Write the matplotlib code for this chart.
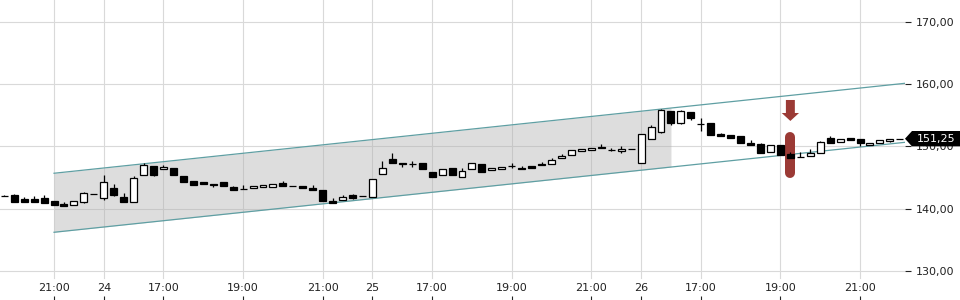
import numpy as np
import matplotlib
matplotlib.use("Agg")
import matplotlib.pyplot as plt
from matplotlib.patches import Polygon

## 15-minute candles, price channel and signal marker

# tick labels on the time axis (candle index -> label)
tick_idx = [5, 10, 16, 24, 32, 37, 43, 51, 59, 64, 70, 78, 86]
tick_lbl = ['21:00', '24', '17:00', '19:00', '21:00', '25', '17:00',
            '19:00', '21:00', '26', '17:00', '19:00', '21:00']

opens = [142.05, 142.26, 141.52, 141.52, 141.68, 141.20, 140.77, 140.56, 141.14, 142.37,
         141.73, 143.33, 141.84, 141.14, 145.37, 146.87, 146.34, 146.50, 145.26, 144.46,
         144.25, 143.98, 144.25, 143.50, 143.17, 143.28, 143.45, 143.45, 144.14, 143.66,
         143.66, 143.33, 143.01, 141.30, 141.46, 142.21, 142.00, 141.94, 145.53, 147.94,
         147.35, 147.19, 147.30, 145.90, 145.37, 146.54, 145.05, 146.43, 147.14, 146.18,
         146.34, 146.87, 146.59, 146.82, 147.19, 147.14, 148.10, 148.59, 149.28, 149.39,
         149.92, 149.44, 149.23, 149.60, 147.35, 151.16, 152.38, 155.65, 153.83, 155.49,
         153.57, 153.73, 152.01, 151.85, 151.64, 150.56, 150.40, 149.07, 150.24, 148.75,
         148.31, 148.42, 148.91, 151.37, 150.67, 151.37, 151.21, 150.19, 150.56, 150.88,
         151.25]
closes = [142.05, 141.09, 141.09, 141.09, 140.88, 140.65, 140.50, 141.20, 142.48, 142.37,
          144.35, 142.26, 141.09, 144.89, 146.98, 145.47, 146.76, 145.42, 144.25, 143.86,
          144.03, 143.77, 143.61, 143.06, 143.17, 143.66, 143.82, 144.03, 143.66, 143.66,
          143.33, 143.06, 141.30, 140.98, 141.84, 141.73, 142.00, 144.73, 146.59, 147.40,
          147.14, 147.19, 146.43, 145.15, 146.43, 145.37, 146.11, 147.30, 145.95, 146.54,
          146.71, 146.87, 146.34, 146.59, 146.98, 147.83, 148.47, 149.39, 149.60, 149.71,
          149.71, 149.44, 149.60, 149.60, 151.96, 153.08, 155.82, 153.73, 155.65, 154.53,
          153.57, 151.80, 151.64, 151.32, 150.61, 150.29, 148.91, 150.19, 148.59, 148.10,
          148.31, 148.91, 150.67, 150.51, 151.25, 151.00, 150.51, 150.51, 151.04, 151.21,
          151.25]
highs = [142.21, 142.42, 141.89, 141.97, 142.13, 141.20, 141.09, 141.20, 142.74, 142.37,
         145.42, 143.98, 142.53, 145.26, 147.30, 146.87, 147.03, 146.50, 145.26, 144.46,
         144.25, 143.98, 144.25, 143.66, 143.82, 143.66, 143.82, 144.03, 144.46, 143.66,
         143.66, 143.82, 143.01, 141.73, 142.21, 142.37, 142.00, 144.73, 147.67, 149.00,
         147.35, 147.67, 147.30, 145.90, 146.43, 146.54, 146.54, 147.30, 147.14, 146.54,
         146.71, 147.35, 146.87, 146.82, 147.51, 148.15, 148.79, 149.39, 149.60, 149.71,
         150.40, 149.76, 150.08, 149.60, 151.96, 153.45, 156.07, 155.65, 155.86, 155.49,
         154.58, 153.73, 152.17, 151.85, 151.64, 151.04, 150.56, 150.19, 150.24, 149.17,
         149.07, 149.60, 150.88, 151.69, 151.25, 151.37, 151.21, 150.51, 151.04, 151.21,
         151.25]
lows = [141.97, 141.09, 141.01, 141.09, 140.88, 140.65, 140.50, 140.56, 140.93, 142.37,
        141.46, 142.05, 141.09, 141.14, 145.37, 145.26, 146.34, 145.42, 144.25, 143.86,
        144.03, 143.50, 143.61, 143.06, 143.17, 143.28, 143.45, 143.45, 143.66, 143.66,
        143.33, 143.06, 141.30, 140.98, 141.46, 141.57, 142.00, 141.94, 145.53, 147.40,
        146.71, 146.71, 146.43, 145.15, 145.37, 145.37, 145.05, 146.43, 145.95, 146.18,
        146.34, 146.54, 146.34, 146.59, 146.98, 147.14, 148.10, 148.59, 149.28, 149.39,
        149.71, 149.20, 148.95, 149.60, 147.35, 151.16, 152.17, 153.45, 153.62, 154.26,
        152.49, 151.80, 151.64, 151.32, 150.61, 150.29, 148.91, 149.07, 148.59, 148.10,
        148.31, 148.42, 148.91, 150.51, 150.67, 151.00, 150.08, 150.19, 150.56, 150.72,
        151.25]

# channel: start index/price of upper line, end price at right edge, width
ch_start, ch_up0, ch_up1, ch_width = 5, 145.70, 160.15, 9.48
shade_end = 67.0       # shaded part of the channel stops here
signal_idx = 79        # red marker
signal_top, signal_bot = 152.28, 144.89
arrow_top, arrow_neck, arrow_tip = 157.47, 155.38, 154.10
last_price = closes[-1]

x_lo, x_hi = -0.43, 90.52
y_lo, y_hi = 125.34, 173.53

plt.rcParams['font.family'] = 'DejaVu Sans'
fig = plt.figure(figsize=(9.6, 3), dpi=100)
ax = fig.add_axes([0, 0, 905 / 960, 1])
ax.set_xlim(x_lo, x_hi)
ax.set_ylim(y_lo, y_hi)
for s in ax.spines.values():
    s.set_visible(False)

# grid
for yv in [130, 140, 150, 160, 170]:
    ax.axhline(yv, color='#d9d9d9', lw=0.8, zorder=0)
for xv in tick_idx:
    ax.axvline(xv, ymin=22 / 300, color='#d9d9d9', lw=0.8, zorder=0)

# channel
xs = np.array([ch_start, x_hi])
up = np.array([ch_up0, ch_up1])
lo = up - ch_width
slope = (ch_up1 - ch_up0) / (x_hi - ch_start)
xf = np.array([ch_start, shade_end])
upf = ch_up0 + slope * (xf - ch_start)
ax.fill_between(xf, upf, upf - ch_width, color=(0.69, 0.69, 0.69), alpha=0.42,
                lw=0, zorder=1)
ax.plot(xs, up, color='#5f9fa3', lw=0.9, zorder=2)
ax.plot(xs, lo, color='#5f9fa3', lw=0.9, zorder=2)

# signal marker
red = '#9b3a35'
rad = 0.8   # round cap radius in price units
ax.plot([signal_idx, signal_idx], [signal_top - rad, signal_bot + rad], color=red,
        lw=7.2, solid_capstyle='round', zorder=3)
ax.fill([signal_idx - 0.45, signal_idx + 0.45, signal_idx + 0.45, signal_idx + 0.87,
         signal_idx, signal_idx - 0.87, signal_idx - 0.45],
        [arrow_top, arrow_top, arrow_neck, arrow_neck, arrow_tip, arrow_neck, arrow_neck],
        color=red, lw=0, zorder=3)

# candles
x = np.arange(len(opens))
o = np.array(opens); c = np.array(closes)
h = np.array(highs); l = np.array(lows)
ax.vlines(x, l, h, color='black', lw=0.9, zorder=4)
upc = c > o
face = np.where(upc, 'white', 'black')
bottom = np.minimum(o, c)
height = np.abs(c - o)
ax.bar(x, height, bottom=bottom, width=0.7, color=face, edgecolor='black',
       linewidth=0.9, zorder=5)

# axes ticks
ax.yaxis.tick_right()
ax.set_yticks([130, 140, 150, 160, 170])
ax.set_yticklabels(['130,00', '140,00', '150,00', '160,00', '170,00'])
ax.tick_params(axis='y', direction='out', length=4, width=0.8, pad=4,
               labelsize=8, colors='#222222')
ax.set_xticks(tick_idx)
ax.set_xticklabels(tick_lbl)
ax.tick_params(axis='x', direction='in', length=3, width=0.8, pad=-12.5,
               labelsize=8, colors='#222222')

# last price tag
fig.canvas.draw()
yd = ax.transData.transform((0, last_price))[1] / 300
hh = 7.7 / 300
tag = Polygon([(905 / 960, yd), (912 / 960, yd + hh), (1.0, yd + hh),
               (1.0, yd - hh), (912 / 960, yd - hh)], closed=True,
              transform=fig.transFigure, facecolor='black', edgecolor='none',
              zorder=10)
fig.patches.append(tag)
fig.text(936 / 960, yd, '151,25', color='white', fontsize=8, ha='center',
         va='center', zorder=11)

fig.savefig('out.png', dpi=100)
